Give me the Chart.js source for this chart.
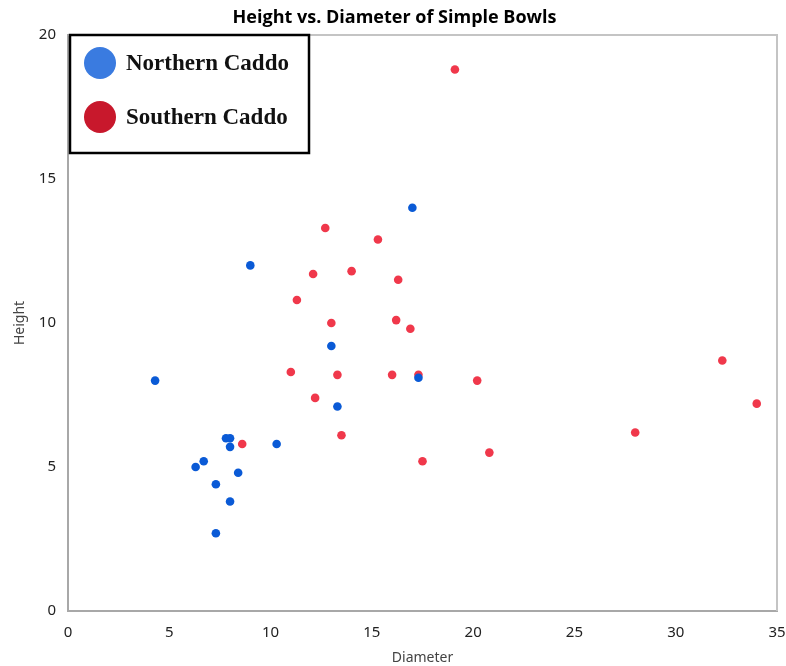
<!DOCTYPE html>
<html>
<head>
<meta charset="utf-8">
<script src="https://cdn.jsdelivr.net/npm/chart.js@4"></script>
<style>
  html, body { margin: 0; padding: 0; background: #fff; }
  #wrap { width: 786px; height: 666px; position: relative; }
</style>
</head>
<body>
<div id="wrap"><canvas id="c"></canvas></div>
<script>
// ── data ──────────────────────────────────────────────────────────────────────
const northDiameter = [4.3, 7.8, 8.0, 8.0, 10.3, 6.7, 6.3, 8.4, 7.3, 8.0, 7.3, 17.0, 9.0, 13.0, 17.3, 13.3];
const northHeight   = [8.0, 6.0, 6.0, 5.7, 5.8, 5.2, 5.0, 4.8, 4.4, 3.8, 2.7, 14.0, 12.0, 9.2, 8.1, 7.1];

const southDiameter = [11.0, 8.6, 12.7, 15.3, 12.1, 14.0, 16.3, 11.3, 13.0, 16.2, 16.9, 13.3,
                       16.0, 17.3, 20.2, 12.2, 13.5, 20.8, 17.5, 19.1, 32.3, 34.0, 28.0];
const southHeight   = [8.3, 5.8, 13.3, 12.9, 11.7, 11.8, 11.5, 10.8, 10.0, 10.1, 9.8, 8.2,
                       8.2, 8.2, 8.0, 7.4, 6.1, 5.5, 5.2, 18.8, 8.7, 7.2, 6.2];

const seriesNames   = ['Northern Caddo', 'Southern Caddo'];
const pointColors   = ['#0a5ad6', '#f0384b'];
const legendColors  = ['#3a7be0', '#c8182c'];

const toPoints = (xs, ys) => xs.map((x, i) => ({ x, y: ys[i] }));

// boxed legend drawn inside the plot, top-left
const boxLegend = {
  id: 'boxLegend',
  afterDraw(chart) {
    const { ctx, chartArea } = chart;
    const x = chartArea.left + 2, y = chartArea.top;
    const w = 239, h = 118;
    ctx.save();
    ctx.fillStyle = '#fff';
    ctx.fillRect(x, y, w, h);
    ctx.lineWidth = 2.5;
    ctx.strokeStyle = '#000';
    ctx.strokeRect(x, y, w, h);
    ctx.font = 'bold 23px "Liberation Serif", "DejaVu Serif", serif';
    ctx.textBaseline = 'middle';
    seriesNames.forEach((name, i) => {
      const cy = y + 28 + i * 54;
      ctx.beginPath();
      ctx.fillStyle = legendColors[i];
      ctx.arc(x + 30, cy, 16, 0, Math.PI * 2);
      ctx.fill();
      ctx.fillStyle = '#111';
      ctx.fillText(name, x + 56, cy + 1);
    });
    ctx.restore();
  }
};

// light frame around the plot area (top + right edges)
const plotFrame = {
  id: 'plotFrame',
  beforeDatasetsDraw(chart) {
    const { ctx, chartArea: a } = chart;
    ctx.save();
    ctx.strokeStyle = '#c4c4c4';
    ctx.lineWidth = 2;
    ctx.beginPath();
    ctx.moveTo(a.left, a.top);
    ctx.lineTo(a.right, a.top);
    ctx.lineTo(a.right, a.bottom);
    ctx.stroke();
    ctx.restore();
  }
};

const tickFont = { family: '"Noto Sans", "Open Sans", sans-serif', size: 15 };

new Chart(document.getElementById('c'), {
  type: 'scatter',
  data: {
    datasets: [
      { label: seriesNames[0], data: toPoints(northDiameter, northHeight),
        backgroundColor: pointColors[0], borderWidth: 0, pointRadius: 4.3, pointHoverRadius: 5 },
      { label: seriesNames[1], data: toPoints(southDiameter, southHeight),
        backgroundColor: pointColors[1], borderWidth: 0, pointRadius: 4.3, pointHoverRadius: 5 },
    ]
  },
  options: {
    responsive: true,
    maintainAspectRatio: false,
    animation: false,
    layout: { padding: { top: 0, right: 9, bottom: 0, left: 12 } },
    plugins: {
      legend: { display: false },
      tooltip: { enabled: false },
      title: {
        display: true,
        text: 'Height vs. Diameter of Simple Bowls',
        color: '#000',
        font: { family: '"Open Sans", "Noto Sans", sans-serif', size: 18, weight: 'bold' },
        padding: { top: 7, bottom: 6.4 }
      }
    },
    scales: {
      x: {
        type: 'linear',
        min: 0, max: 35,
        ticks: { stepSize: 5, color: '#222', font: tickFont, padding: 6 },
        grid: { display: false, drawTicks: true, tickLength: 7, tickColor: '#a8a8a8' },
        border: { color: '#a8a8a8', width: 2 },
        title: { display: true, text: 'Diameter', color: '#444',
                 font: { family: '"Noto Sans", sans-serif', size: 14 }, padding: { top: 0, bottom: 0 } },
        // let the last tick label run off the edge like the original
        afterFit: s => { s.height = 55; s.paddingLeft = 0; s.paddingRight = 0; }
      },
      y: {
        type: 'linear',
        min: 0, max: 20,
        ticks: {
          stepSize: 2.5, color: '#222', font: tickFont, padding: 5,
          callback: v => (v % 5 === 0 ? v : '')
        },
        grid: { display: false, drawTicks: true, tickLength: 7, tickColor: '#a8a8a8' },
        border: { color: '#a8a8a8', width: 2 },
        title: { display: true, text: 'Height', color: '#444',
                 font: { family: '"Noto Sans", sans-serif', size: 14 }, padding: { top: 0, bottom: 4 } },
        afterFit: s => { s.width = 56; s.paddingTop = 0; s.paddingBottom = 0; }
      }
    }
  },
  plugins: [plotFrame, boxLegend]
});
</script>
</body>
</html>
